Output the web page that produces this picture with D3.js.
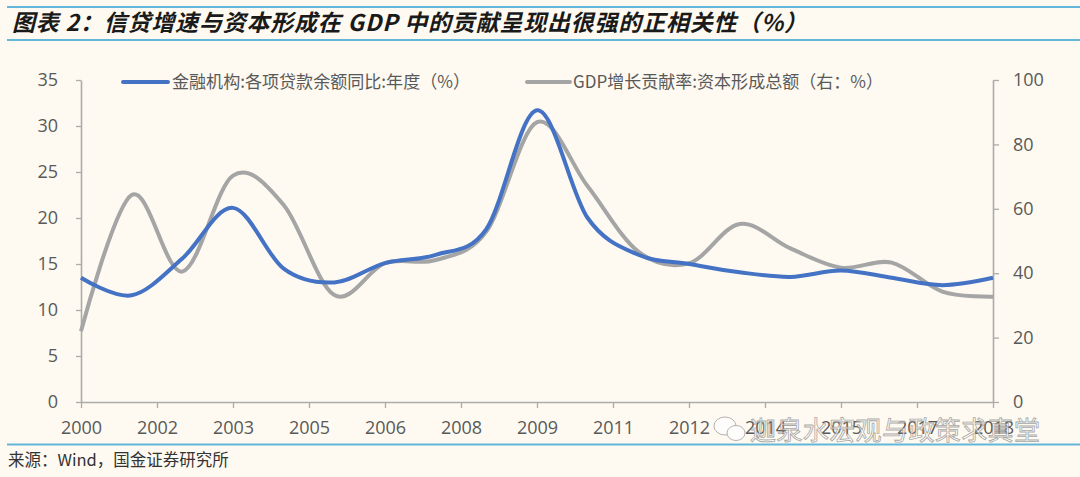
<!DOCTYPE html>
<html>
<head>
<meta charset="utf-8">
<script src="https://cdn.jsdelivr.net/npm/d3@7"></script>
<style>
  html, body { margin: 0; padding: 0; background: #FEFAF1; }
  svg { display: block; }
</style>
</head>
<body>
<svg id="chart" width="1080" height="477"></svg>
<script>
// ---- data ----
const years = [2000,2001,2002,2003,2004,2005,2006,2007,2008,2009,2010,2011,2012,2013,2014,2015,2016,2017,2018];
const loanGrowth = [13.5,11.6,15.6,21.1,14.5,13.0,15.1,16.0,18.8,31.7,20.0,16.0,15.0,14.1,13.6,14.3,13.5,12.7,13.5];
const capitalContribution = [22,64.3,40.5,70.3,61.2,33.2,43.1,44.1,52.9,86.9,67.0,46.7,43.1,55.3,47.7,41.7,43.3,34.3,32.7];
const xTickLabels = ["2000","2002","2003","2005","2006","2008","2009","2011","2012","2014","2015","2017","2018"];
const leftTicks = [0,5,10,15,20,25,30,35];
const rightTicks = [0,20,40,60,80,100];
const seriesNames = ["金融机构:各项贷款余额同比:年度（%）", "GDP增长贡献率:资本形成总额（右：%）"];
const titleText = "图表 2：信贷增速与资本形成在 GDP 中的贡献呈现出很强的正相关性（%）";
const sourceText = "来源：Wind，国金证券研究所";
const watermarkText = "迦泉水宏观与政策求真堂";

const svg = d3.select("#chart");
const W = 1080, H = 477;
const L = 81, R = 993, T = 80, B = 402;
const numFont = "'Open Sans', 'Noto Sans', sans-serif";
const cjkFont = "'Noto Sans CJK SC', 'Noto Sans', sans-serif";
const axisColor = "#ABABAB";
const textColor = "#595959";
const blue = "#4472C4", gray = "#A5A5A5";
const rule = "#62B6DA";

svg.append("rect").attr("width", W).attr("height", H).attr("fill", "#FEFAF1");

// title & rules
svg.append("line").attr("x1", 7).attr("x2", W).attr("y1", 7).attr("y2", 7)
  .attr("stroke", rule).attr("stroke-width", 2);
svg.append("line").attr("x1", 7).attr("x2", W).attr("y1", 40).attr("y2", 40)
  .attr("stroke", rule).attr("stroke-width", 2);
svg.append("text").attr("x", 12).attr("y", 31)
  .attr("font-family", cjkFont).attr("font-size", 23).attr("font-weight", "bold")
  .attr("font-style", "italic").attr("fill", "#1a1a1a")
  .attr("textLength", 795).attr("lengthAdjust", "spacing")
  .text(titleText);

// bottom rule & source
svg.append("line").attr("x1", 7).attr("x2", W).attr("y1", 444.5).attr("y2", 444.5)
  .attr("stroke", rule).attr("stroke-width", 2);
svg.append("text").attr("x", 8).attr("y", 466)
  .attr("font-family", cjkFont).attr("font-size", 16.5).attr("fill", "#333")
  .text(sourceText);

// scales
const x = d3.scaleLinear().domain([2000, 2018]).range([L, R]);
const yL = d3.scaleLinear().domain([0, 35]).range([B, T]);
const yR = d3.scaleLinear().domain([0, 100]).range([B, T]);

// axes
const xTickVals = xTickLabels.map((d, i) => 2000 + 1.5 * i);
const gx = svg.append("g").attr("transform", `translate(0,${B})`)
  .call(d3.axisBottom(x).tickValues(xTickVals).tickSize(6).tickPadding(13)
    .tickFormat((d, i) => xTickLabels[i]).tickSizeOuter(0));
const gl = svg.append("g").attr("transform", `translate(${L},0)`)
  .call(d3.axisLeft(yL).tickValues(leftTicks).tickSize(5).tickPadding(18).tickSizeOuter(0));
const gr = svg.append("g").attr("transform", `translate(${R},0)`)
  .call(d3.axisRight(yR).tickValues(rightTicks).tickSize(6).tickPadding(14).tickSizeOuter(0));

[gx, gl, gr].forEach(g => {
  g.select(".domain").attr("stroke", axisColor).attr("stroke-width", 1.6);
  g.selectAll(".tick line").attr("stroke", axisColor).attr("stroke-width", 1.3);
  g.selectAll(".tick text").attr("font-family", numFont).attr("font-size", 18).attr("fill", textColor);
});

// lines
const lineL = d3.line().x((d, i) => x(years[i])).y(d => yL(d)).curve(d3.curveCatmullRom.alpha(0));
const lineR = d3.line().x((d, i) => x(years[i])).y(d => yR(d)).curve(d3.curveCatmullRom.alpha(0));

svg.append("path").datum(capitalContribution).attr("d", lineR)
  .attr("fill", "none").attr("stroke", gray).attr("stroke-width", 4).attr("stroke-linecap", "butt");
svg.append("path").datum(loanGrowth).attr("d", lineL)
  .attr("fill", "none").attr("stroke", blue).attr("stroke-width", 4).attr("stroke-linecap", "butt");

// legend
const legend = [
  {name: seriesNames[0], color: blue, x0: 123, x1: 168, tx: 172, len: 298},
  {name: seriesNames[1], color: gray, x0: 527, x1: 570, tx: 573, len: 310}
];
legend.forEach(d => {
  svg.append("line").attr("x1", d.x0).attr("x2", d.x1).attr("y1", 82).attr("y2", 82)
    .attr("stroke", d.color).attr("stroke-width", 4).attr("stroke-linecap", "round");
  svg.append("text").attr("x", d.tx).attr("y", 82).attr("dy", "0.35em")
    .attr("font-family", cjkFont).attr("font-size", 17.5).attr("fill", textColor)
    .attr("textLength", d.len).attr("lengthAdjust", "spacingAndGlyphs")
    .text(d.name);
});

// watermark (faint overlay, as in the reference)
const wm = svg.append("g").attr("opacity", 0.75);
wm.append("ellipse").attr("cx", 725).attr("cy", 426).attr("rx", 11).attr("ry", 9)
  .attr("fill", "#fff").attr("stroke", "#9a9a9a").attr("stroke-width", 1);
wm.append("ellipse").attr("cx", 736).attr("cy", 433).attr("rx", 9).attr("ry", 7.5)
  .attr("fill", "#fff").attr("stroke", "#9a9a9a").attr("stroke-width", 1);
wm.append("text").attr("x", 750).attr("y", 440)
  .attr("font-family", cjkFont).attr("font-size", 26).attr("fill", "#ffffff")
  .attr("stroke", "#8c8c8c").attr("stroke-width", 0.8)
  .attr("textLength", 290).attr("lengthAdjust", "spacing")
  .text(watermarkText);
</script>
</body>
</html>
